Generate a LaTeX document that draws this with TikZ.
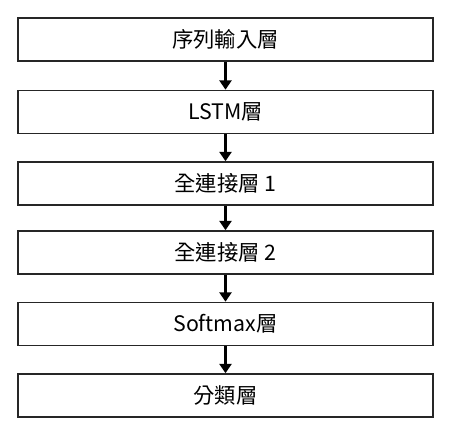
\documentclass[tikz,border=0pt]{standalone}
\usepackage{fontspec}
\setmainfont{Noto Sans CJK TC}
\usetikzlibrary{arrows.meta}
\begin{document}
\begin{tikzpicture}[x=0.75pt,y=-0.75pt,
  layer/.style={draw=black!85,line width=1.2pt,minimum width=415*0.75pt,minimum height=43*0.75pt,inner sep=0pt,font=\fontsize{16pt}{18pt}\selectfont},
  flow/.style={line width=2.2pt,-{Triangle[length=7pt,width=9pt]}}]
\useasboundingbox (0,0) rectangle (451,430);
\node[layer] (a) at (225.5,39.5) {序列輸入層};
\node[layer] (b) at (225.5,112) {LSTM層};
\node[layer] (c) at (225.5,183.5) {全連接層 1};
\node[layer] (d) at (225.5,252.5) {全連接層 2};
\node[layer] (e) at (225.5,324) {Softmax層};
\node[layer] (f) at (225.5,395.5) {分類層};
\foreach \u/\v in {a/b,b/c,c/d,d/e,e/f}
  \draw[flow] (\u.south) -- (\v.north);
\end{tikzpicture}
\end{document}
